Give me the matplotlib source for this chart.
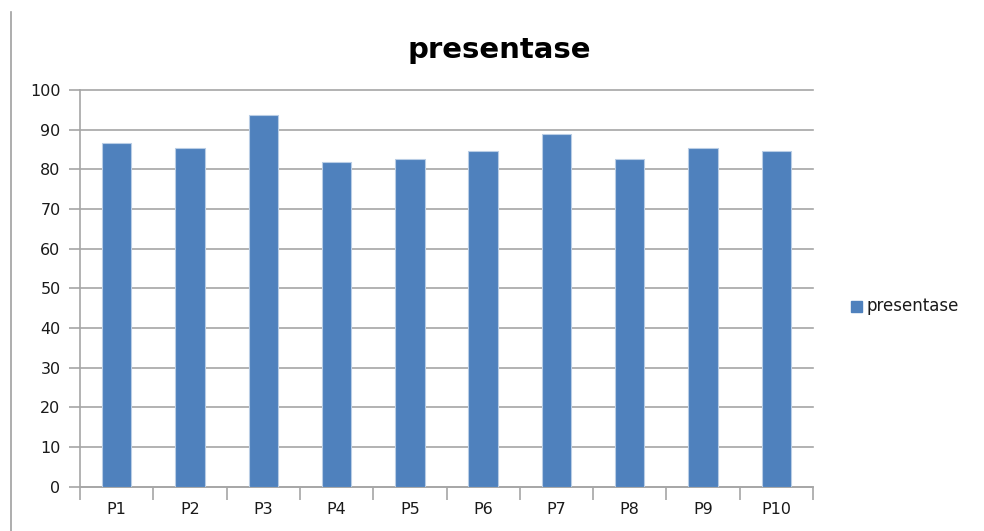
import matplotlib
matplotlib.use("Agg")
import matplotlib.pyplot as plt
from matplotlib.lines import Line2D
from matplotlib.patches import Rectangle

plt.rcParams["font.family"] = ["DejaVu Sans"]

categories = ["P1", "P2", "P3", "P4", "P5", "P6", "P7", "P8", "P9", "P10"]
values = [86.7, 85.5, 93.8, 81.8, 82.6, 84.7, 88.8, 82.6, 85.5, 84.7]
series_name = "presentase"
yticks = [0, 10, 20, 30, 40, 50, 60, 70, 80, 90, 100]

W, H = 984, 531
fig = plt.figure(figsize=(W / 100, H / 100), dpi=100)
ax = fig.add_axes([80 / W, 1 - 486.7 / H, (813 - 80) / W, (486.7 - 90) / H])

bar_color = "#4F81BD"
grid_color = "#A6A6A6"
text_color = "#1a1a1a"
x = list(range(len(categories)))
ax.bar(x, values, width=0.4, color=bar_color, edgecolor="#B9CDE5", linewidth=0.8, zorder=3)

ax.set_xlim(-0.5, len(categories) - 0.5)
ax.set_ylim(0, 100)
ax.set_yticks(yticks)
ax.set_yticklabels([str(v) for v in yticks], fontsize=11.5, color=text_color)
ax.yaxis.grid(True, color=grid_color, linewidth=1.2, zorder=0)
for gl in ax.get_ygridlines():
    gl.set_clip_on(False)
ax.set_axisbelow(True)

ax.set_xticks(x)
ax.set_xticklabels(categories, fontsize=11.5, color=text_color)
ax.tick_params(axis="x", which="major", length=0, pad=11)
ax.set_xticks([i - 0.5 for i in range(len(categories) + 1)], minor=True)
ax.tick_params(axis="x", which="minor", length=9, width=1.2, color=grid_color, direction="out")
ax.tick_params(axis="y", length=8, width=1.2, color=grid_color, direction="out", pad=6)

for s in ["top", "right"]:
    ax.spines[s].set_visible(False)
for s in ["left", "bottom"]:
    ax.spines[s].set_color(grid_color)
    ax.spines[s].set_linewidth(1.2)

fig.text(499 / W, 1 - 50 / H, "presentase", ha="center", va="center",
         fontsize=21, fontweight="bold", color="black")

# legend
fig.add_artist(Rectangle((851 / W, 1 - 312 / H), 11 / W, 11 / H,
                         transform=fig.transFigure, color=bar_color))
fig.text(867 / W, 1 - 306 / H, series_name, ha="left", va="center",
         fontsize=12, color=text_color)

# left border of chart area
fig.add_artist(Line2D([11 / W, 11 / W], [0, 1 - 12 / H],
                      transform=fig.transFigure, color="#A0A0A0", linewidth=1.2))

fig.savefig("out.png", dpi=100)
